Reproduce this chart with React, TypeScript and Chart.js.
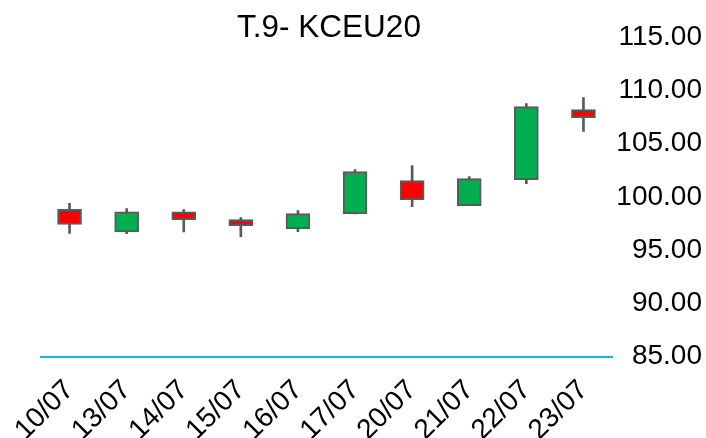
import React, { useEffect, useRef } from "react";
import { Chart, registerables } from "chart.js";

Chart.register(...registerables);

const categories = ["10/07", "13/07", "14/07", "15/07", "16/07", "17/07", "20/07", "21/07", "22/07", "23/07"];
const openValues = [98.83, 96.7, 98.6, 97.86, 97.02, 98.43, 101.53, 99.18, 101.62, 108.19];
const highValues = [99.39, 98.9, 98.8, 98.05, 98.7, 102.56, 102.93, 101.9, 108.76, 109.32];
const lowValues = [96.57, 96.55, 96.7, 96.27, 96.74, 98.4, 99.08, 99.18, 101.24, 106.13];
const closeValues = [97.42, 98.6, 97.86, 97.3, 98.43, 102.37, 99.74, 101.71, 108.47, 107.44];
const titleText = "T.9- KCEU20";

const titlePlugin = {
  id: "customTitle",
  afterDraw(chart: any) {
    const ctx = chart.ctx;
    ctx.save();
    ctx.fillStyle = "#000";
    ctx.font = "31.5px 'Liberation Sans'";
    ctx.textAlign = "center";
    ctx.textBaseline = "alphabetic";
    ctx.fillText(titleText, 329, 37);
    ctx.restore();
  },
};

export default function App() {
  const ref = useRef<HTMLCanvasElement | null>(null);
  useEffect(() => {
    document.body.style.margin = "0";
    if (!ref.current) return;
    const bodies = categories.map((_, i) => [openValues[i], closeValues[i]]);
    const wicks = categories.map((_, i) => [lowValues[i], highValues[i]]);
    const colors = categories.map((_, i) => (closeValues[i] >= openValues[i] ? "#00b050" : "#ff0000"));
    const chart = new Chart(ref.current, {
      type: "bar",
      data: {
        labels: categories,
        datasets: [
          {
            label: "body",
            data: bodies as any,
            backgroundColor: colors,
            borderColor: "#5a5a5a",
            borderWidth: 2,
            borderSkipped: false,
            barThickness: 24,
            grouped: false,
            order: 0,
          } as any,
          {
            label: "wick",
            data: wicks as any,
            backgroundColor: "#5a5a5a",
            borderWidth: 0,
            barThickness: 2,
            grouped: false,
            order: 1,
          } as any,
        ],
      },
      plugins: [titlePlugin],
      options: {
        animation: false,
        responsive: false,
        layout: { padding: { left: 41, right: 4, top: 37, bottom: -26 } },
        plugins: {
          legend: { display: false },
          tooltip: { enabled: false },
          title: { display: false },
        },
        scales: {
          x: {
            grid: { display: false, drawTicks: false },
            border: { display: true, color: "#1ab4ea", width: 2 },
            ticks: {
              color: "#000",
              font: { family: "Liberation Sans", size: 28 },
              minRotation: 45,
              maxRotation: 45,
              padding: 17,
            },
          },
          y: {
            position: "right",
            min: 85,
            max: 115,
            grid: { display: false, drawTicks: false },
            border: { display: false },
            afterFit: (scale: any) => {
              scale.width = 90;
            },
            ticks: {
              stepSize: 5,
              color: "#000",
              crossAlign: "far",
              padding: 4,
              font: { family: "Liberation Sans", size: 28 },
              callback: (v: any) => Number(v).toFixed(2),
            },
          },
        },
      },
    });
    return () => chart.destroy();
  }, []);
  return (
    <div style={{ width: 706, height: 438 }}>
      <canvas ref={ref} width={706} height={438} />
    </div>
  );
}
